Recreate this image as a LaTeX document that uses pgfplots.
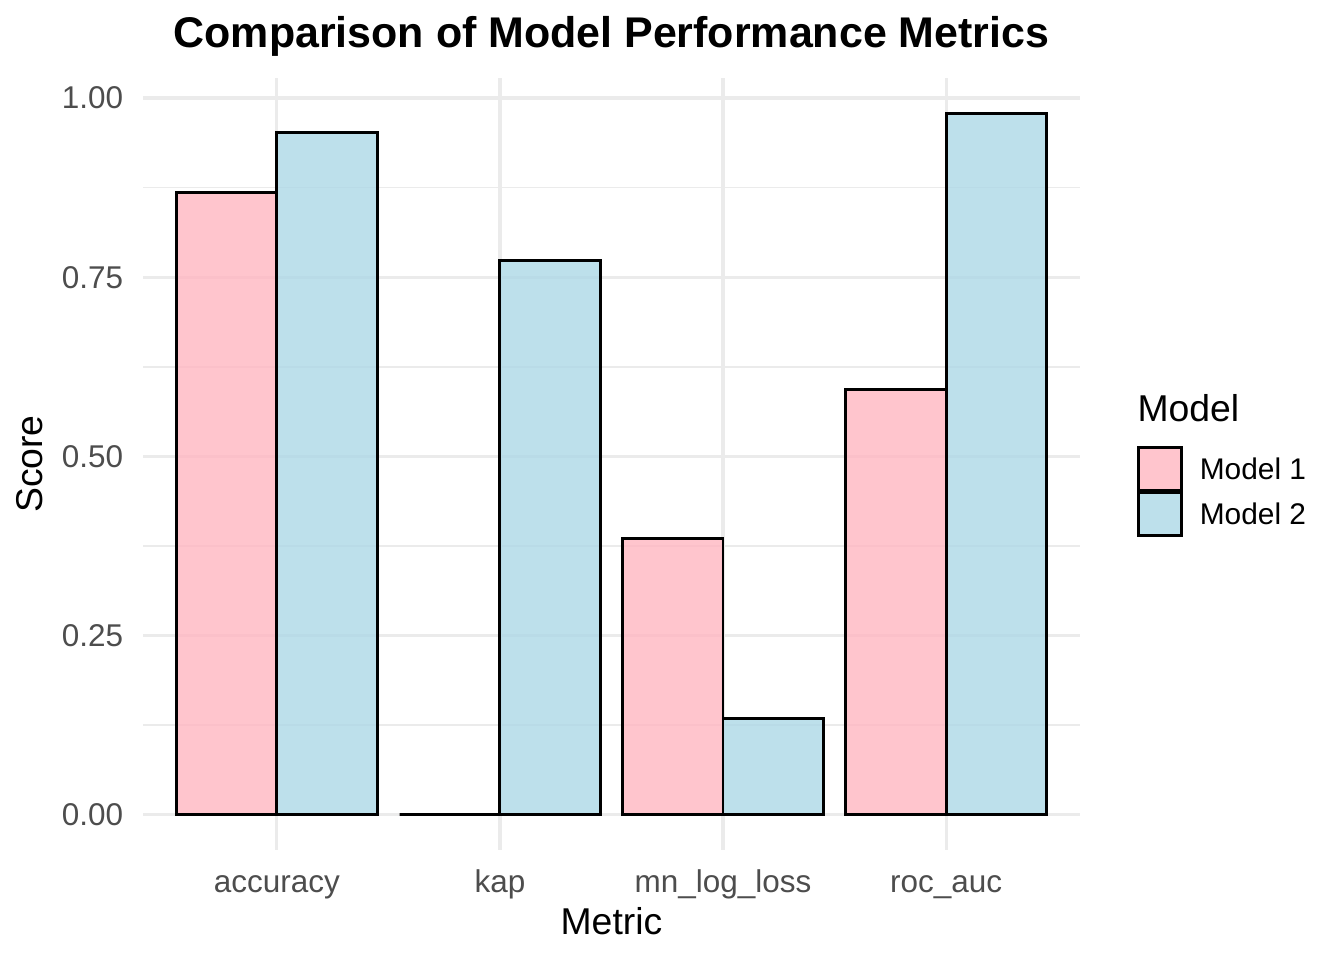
\documentclass[border=0pt]{standalone}
\usepackage{fontspec}
\setmainfont{Liberation Sans}
\usepackage{pgfplots}
\pgfplotsset{compat=1.18}

\definecolor{grid92}{HTML}{EBEBEB}
\definecolor{grey30}{HTML}{4D4D4D}
\definecolor{mpink}{HTML}{FFB6C1}
\definecolor{mblue}{HTML}{ADD8E6}

\begin{document}
\begin{tikzpicture}
    \path[use as bounding box] (0,0) rectangle (504pt,360pt);
    \begin{axis}[
        at={(53.6pt,41.25pt)}, anchor=south west,
        scale only axis,
        width=351.4pt, height=289.5pt,
        clip=false,
        xmin=0.4, xmax=4.6,
        ymin=-0.049, ymax=1.028,
        xtick={1,2,3,4},
        xticklabels={accuracy, kap, mn\_log\_loss, roc\_auc},
        ytick={0,0.25,0.5,0.75,1},
        minor ytick={0.125,0.375,0.625,0.875},
        /pgf/number format/assume math mode=true,
        yticklabel={\pgfmathprintnumber[fixed, fixed zerofill, precision=2]{\tick}},
        axis line style={draw=none},
        major tick length=0pt, minor tick length=0pt,
        ymajorgrids, yminorgrids, xmajorgrids,
        major grid style={grid92, line width=1.2pt},
        minor grid style={grid92, line width=0.6pt},
        tick label style={font=\fontsize{11.8}{14}\selectfont, text=grey30},
        xticklabel style={anchor=base, inner sep=0pt, yshift=-15.75pt},
        yticklabel style={anchor=east, inner sep=0pt, xshift=-7.2pt},
        xlabel={Metric},
        xlabel style={at={(0.5,-0.1095)}, anchor=base, inner sep=0pt,
            font=\fontsize{14}{16}\selectfont},
        ylabel={Score},
        ylabel style={at={(-0.1067,0.5)}, anchor=base, inner sep=0pt,
            font=\fontsize{14}{16}\selectfont},
        legend image code/.code={
            \draw[#1] (0pt,-7.55pt) rectangle (16.1pt,8.55pt);
        },
        legend style={
            at={(1.0608,0.5233)}, anchor=north west,
            draw=none, fill=none, inner sep=0pt, outer sep=0pt,
            row sep=-0.2pt,
            font=\fontsize{11.2}{13}\selectfont,
            nodes={inner sep=0pt},
            /tikz/every odd column/.append style={column sep=6.4pt},
        },
        legend cell align=left,
    ]
        \addplot[ybar, bar width=0.45, bar shift=-0.225,
            fill=mpink, fill opacity=0.8, draw=black, line width=1.07pt]
            coordinates {(1,0.868) (2,0) (3,0.385) (4,0.593)};
        \addlegendentry{Model 1}

        \addplot[ybar, bar width=0.45, bar shift=0.225,
            fill=mblue, fill opacity=0.8, draw=black, line width=1.07pt]
            coordinates {(1,0.952) (2,0.773) (3,0.134) (4,0.979)};
        \addlegendentry{Model 2}

        \node[anchor=base, inner sep=0pt, font=\bfseries\fontsize{16.1}{19}\selectfont]
            at (axis description cs:0.5,1.0389)
            {Comparison of Model Performance Metrics};
        \node[anchor=base west, inner sep=0pt, font=\fontsize{14}{16}\selectfont]
            at (axis description cs:1.0608,0.5548) {Model};
    \end{axis}
\end{tikzpicture}
\end{document}
